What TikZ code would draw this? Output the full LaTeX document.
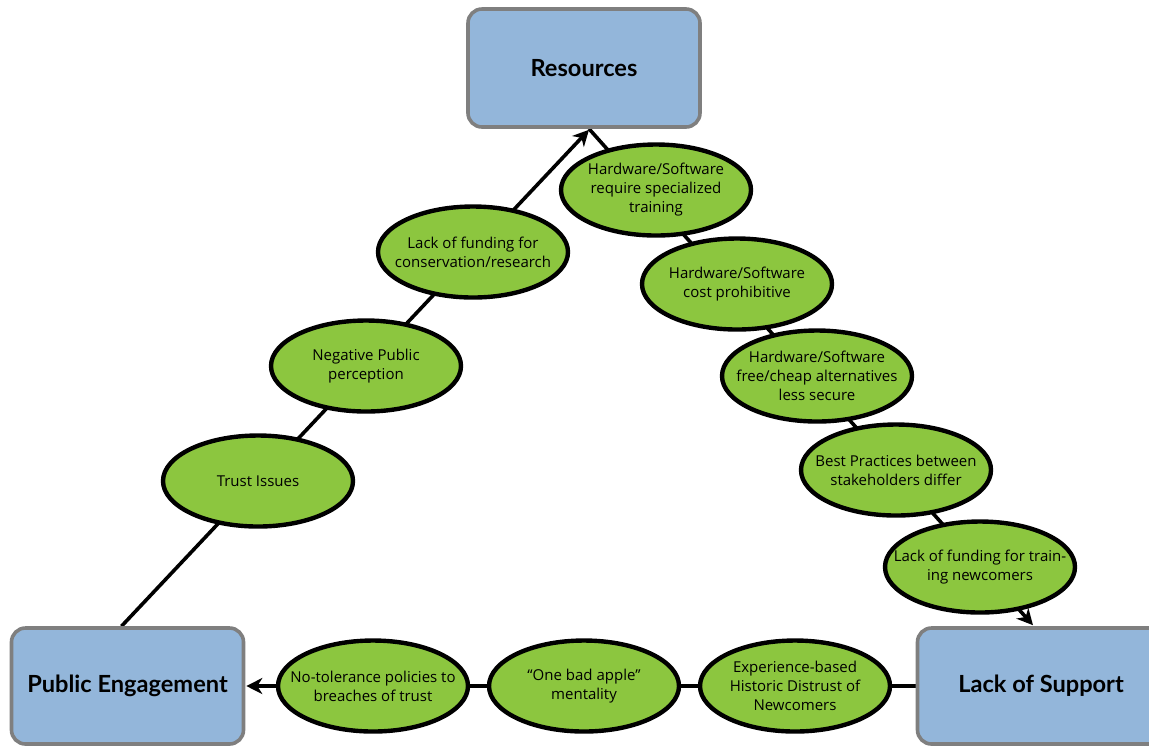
\documentclass[tikz,border=0pt]{standalone}
\usepackage{fontspec}
\setmainfont{Open Sans}
\newfontfamily\titlefont{Lato}
\usetikzlibrary{arrows.meta,shapes.geometric,backgrounds}

\definecolor{boxblue}{HTML}{93B6DA}
\definecolor{boxgray}{HTML}{7F7F7F}
\definecolor{leafgreen}{HTML}{8CC63F}

\tikzset{
	topic/.style={draw=boxgray, fill=boxblue, line width=1.8pt, rounded corners=7pt,
		minimum width=116pt, minimum height=58pt,
		font=\titlefont\bfseries\fontsize{11.8}{13}\selectfont},
	issue/.style={ellipse, draw=black, fill=leafgreen, line width=2.2pt,
		minimum width=95pt, minimum height=45.5pt, inner sep=-12pt, align=center,
		font=\fontsize{7.5}{9.5}\selectfont},
	link/.style={line width=1.8pt},
	tip/.style={-{Stealth[length=8pt,width=8pt,inset=2.5pt]}}
}

\begin{document}
\begin{tikzpicture}[x=0.5pt,y=-0.5pt]
	\useasboundingbox (0,0) rectangle (1149,746);
		\node[topic, minimum height=59pt] (R) at (584,68) {Resources};
		\node[topic] (P) at (127.5,686) {Public Engagement};
		\node[topic, minimum width=123.5pt] (S) at (1041,686) {Lack of Support};
	% right side
		\node[issue] (R1) at (656,190) {Hardware/Software\\require specialized\\training};
		\node[issue] (R2) at (737,284) {Hardware/Software\\cost prohibitive};
		\node[issue] (R3) at (817,376) {Hardware/Software\\free/cheap alternatives\\less secure};
		\node[issue] (R4) at (896,470) {Best Practices between\\stakeholders differ};
		\node[issue] (R5) at (980,567) {Lack of funding for train-\\ing newcomers};
	% left side
		\node[issue] (L1) at (473,252) {Lack of funding for\\conservation/research};
		\node[issue] (L2) at (366,366) {Negative Public\\perception};
		\node[issue] (L3) at (258,481) {Trust Issues};
	% bottom
		\node[issue] (B1) at (373,686) {No-tolerance policies to\\breaches of trust};
		\node[issue] (B2) at (584,686) {“One bad apple”\\mentality};
		\node[issue] (B3) at (795,686) {Experience-based\\Historic Distrust of\\Newcomers};
	\begin{scope}[on background layer]
		\draw[link, tip] ([xshift=-3pt]P.north) -- ([xshift=2.5pt,yshift=-0.5pt]R.south);
		\draw[link, tip] ([xshift=2.5pt]R.south) -- ([xshift=-4pt,yshift=0.5pt]S.north);
		\draw[link, tip] (S.west) -- ([xshift=0.5pt]P.east);
	\end{scope}
\end{tikzpicture}
\end{document}
